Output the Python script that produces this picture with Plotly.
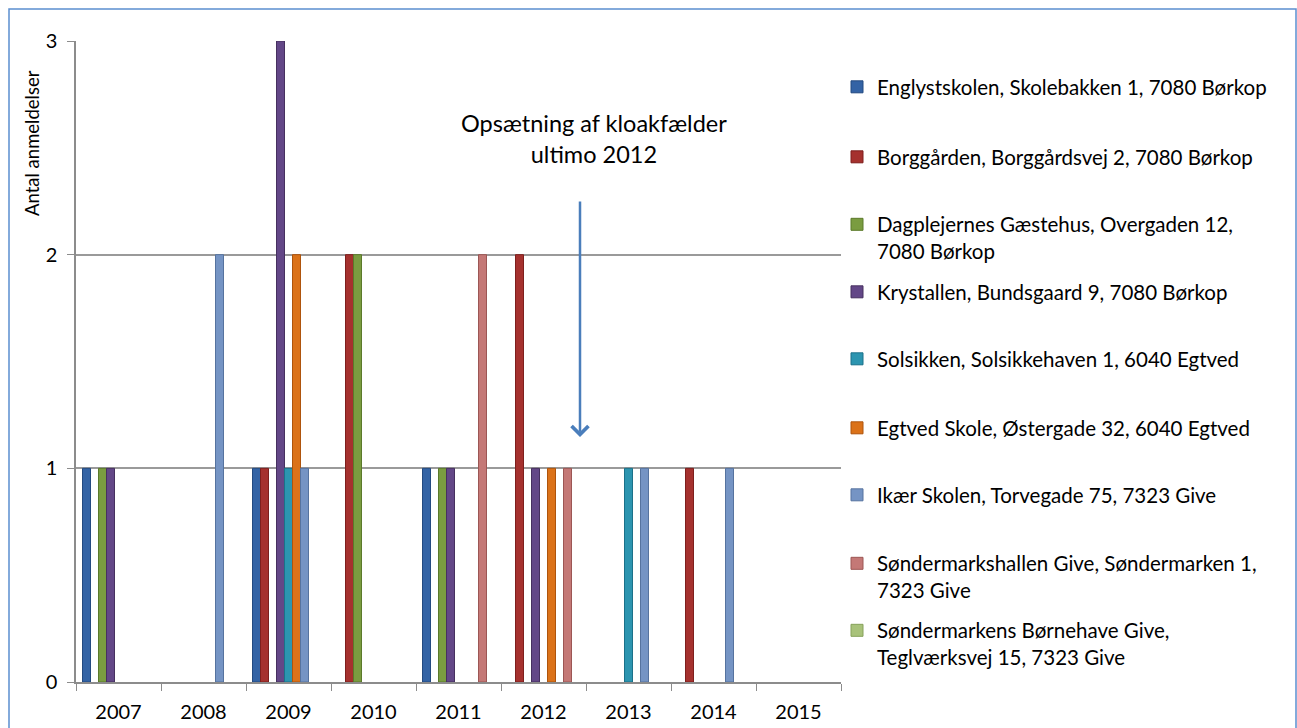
import plotly.graph_objects as go

years = ["2007", "2008", "2009", "2010", "2011", "2012", "2013", "2014", "2015"]

series_names = [
    "Englystskolen, Skolebakken 1, 7080 Børkop",
    "Borggården, Borggårdsvej 2, 7080 Børkop",
    "Dagplejernes Gæstehus, Overgaden 12,<br>7080 Børkop",
    "Krystallen, Bundsgaard 9, 7080 Børkop",
    "Solsikken, Solsikkehaven 1, 6040 Egtved",
    "Egtved Skole, Østergade 32, 6040 Egtved",
    "Ikær Skolen, Torvegade 75, 7323 Give",
    "Søndermarkshallen Give, Søndermarken 1,<br>7323 Give",
    "Søndermarkens Børnehave Give,<br>Teglværksvej 15, 7323 Give",
]

englyst = [1, 0, 1, 0, 1, 0, 0, 0, 0]
borggarden = [0, 0, 1, 2, 0, 2, 0, 1, 0]
dagplejernes = [1, 0, 0, 2, 1, 0, 0, 0, 0]
krystallen = [1, 0, 3, 0, 1, 1, 0, 0, 0]
solsikken = [0, 0, 1, 0, 0, 0, 1, 0, 0]
egtved = [0, 0, 2, 0, 0, 1, 0, 0, 0]
ikaer = [0, 2, 1, 0, 0, 0, 1, 1, 0]
sondermarkshallen = [0, 0, 0, 0, 2, 1, 0, 0, 0]
sondermarkens = [0, 0, 0, 0, 0, 0, 0, 0, 0]

all_values = [englyst, borggarden, dagplejernes, krystallen, solsikken,
              egtved, ikaer, sondermarkshallen, sondermarkens]

colors = ["#3363A5", "#A5312E", "#7A9C40", "#634787", "#2C95B0",
          "#DB7219", "#7594C4", "#C47876", "#A8C27A"]
edges = ["#234A80", "#7E1F1D", "#5B7A2A", "#46305F", "#1B7189",
         "#AE540C", "#56739F", "#9C5654", "#86A15A"]

# legend center y positions (pixels from top) for layout
legend_centers_px = [87, 157, 238, 292, 359, 428, 495, 577, 644]

W, H = 1297, 728
FONT = "Lato"

fig = go.Figure()
for i, (name, vals) in enumerate(zip(series_names, all_values)):
    fig.add_trace(go.Bar(
        x=years,
        y=[v if v else None for v in vals],
        name=name,
        marker=dict(color=colors[i], line=dict(color=edges[i], width=1)),
        legend="legend" if i == 0 else f"legend{i+1}",
    ))

layout_legends = {}
for i, cy in enumerate(legend_centers_px):
    key = "legend" if i == 0 else f"legend{i+1}"
    layout_legends[key] = dict(
        x=837 / W, y=1 - cy / H, xref="container", yref="container",
        xanchor="left", yanchor="middle", valign="top",
        font=dict(family=FONT, size=20.5, color="#000000"),
        bgcolor="rgba(0,0,0,0)", borderwidth=0,
    )

fig.update_layout(
    width=W, height=H,
    margin=dict(l=76, r=W - 841, t=41, b=H - 682, autoexpand=False),
    paper_bgcolor="white", plot_bgcolor="white",
    barmode="group", bargap=0.153, bargroupgap=0,
    showlegend=True,
    font=dict(family=FONT, color="#000000"),
    **layout_legends,
)

fig.update_xaxes(
    type="category", categoryorder="array", categoryarray=years,
    showline=True, linecolor="#8C8C8C", linewidth=1.5,
    ticks="outside", tickson="boundaries", ticklen=7, tickcolor="#8C8C8C",
    tickfont=dict(family=FONT, size=20, color="#000000"),
    ticklabelstandoff=11,
    showgrid=False,
)
fig.update_yaxes(
    range=[0, 3], tickvals=[0, 1, 2, 3],
    showline=True, linecolor="#8C8C8C", linewidth=1.5,
    ticks="outside", ticklen=7, tickcolor="#8C8C8C",
    tickfont=dict(family=FONT, size=20, color="#000000"),
    ticklabelstandoff=6,
    showgrid=True, gridcolor="#9A9A9A", gridwidth=1.5,
    zeroline=False,
)

# outer chart border
fig.add_shape(type="rect", xref="paper", yref="paper",
              x0=(9 - 76) / 765, x1=(1296 - 76) / 765,
              y0=(682 - 740) / 641, y1=(682 - 9) / 641,
              line=dict(color="#5B8ED0", width=1.5), layer="below")

# y-axis title
fig.add_annotation(text="Antal anmeldelser", xref="paper", yref="paper",
                   x=(32 - 76) / 765, y=(682 - 143) / 641, textangle=-90,
                   xanchor="center", yanchor="middle",
                   showarrow=False, font=dict(family=FONT, size=18.5, color="#000000"))

# annotation text
fig.add_annotation(text="Opsætning af kloakfælder<br>ultimo 2012",
                   xref="paper", yref="paper",
                   x=(594 - 76) / 765, y=(682 - 138) / 641,
                   xanchor="center", yanchor="middle",
                   showarrow=False, font=dict(family=FONT, size=23.5, color="#000000"))

# arrow
fig.add_annotation(text="", xref="paper", yref="y",
                   x=(580 - 76) / 765, y=3 * (682 - 437) / 641,
                   ax=0, ay=-237, axref="pixel", ayref="pixel",
                   showarrow=True, arrowhead=4, arrowsize=1.3, arrowwidth=2.5,
                   arrowcolor="#4A7EBB")

fig.write_html(
    "out.html",
    config={"displayModeBar": False},
    post_script="document.body.style.margin='0';document.body.style.overflow='hidden';",
)
